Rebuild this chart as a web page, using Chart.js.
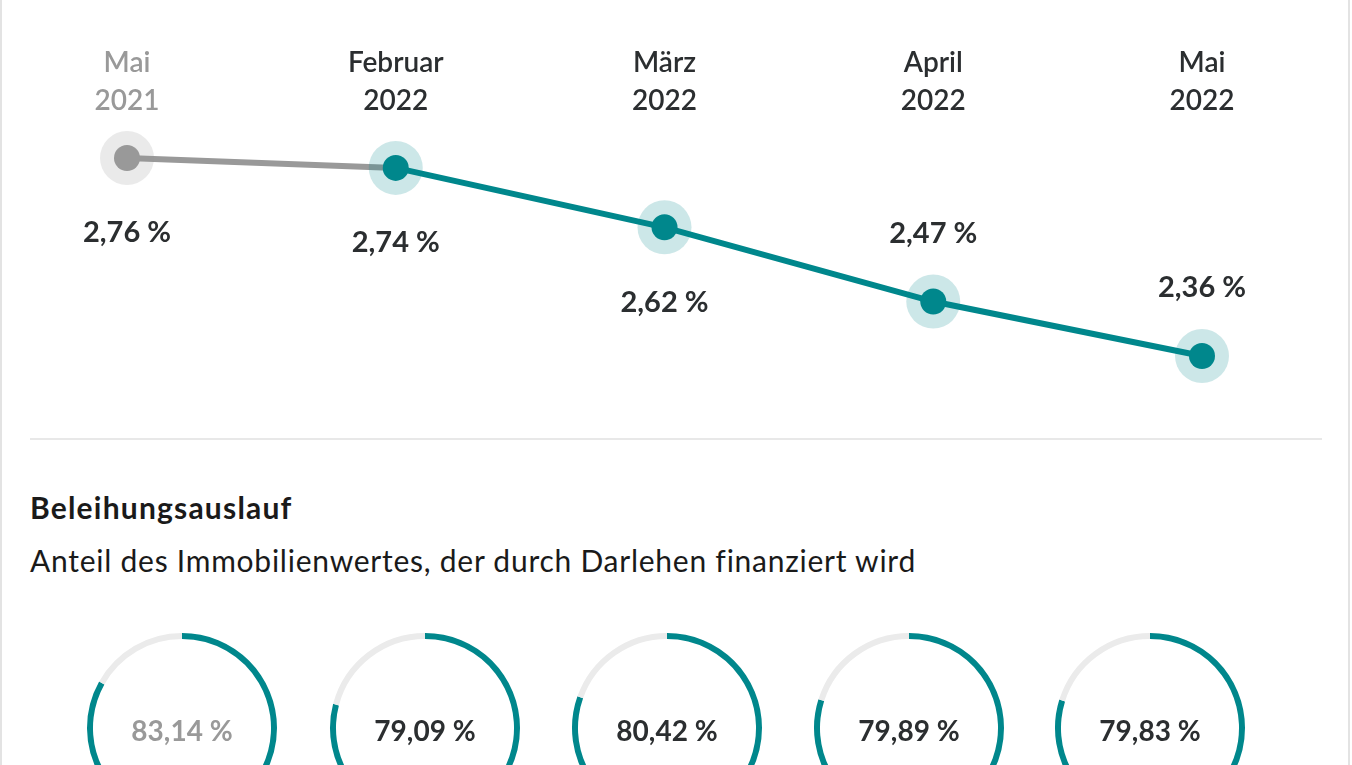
<!DOCTYPE html>
<html><head><meta charset="utf-8">
<script src="https://cdn.jsdelivr.net/npm/chart.js@4.4.0/dist/chart.umd.min.js"></script>
<style>
html,body{margin:0;padding:0;background:#fff;overflow:hidden;width:1352px;height:765px;font-family:Lato,"Open Sans",sans-serif;}
#frame{position:absolute;left:0;top:0;width:1346px;height:900px;border-left:2px solid #e3e3e3;border-right:2px solid #e3e3e3;}
#lineCv{position:absolute;left:0;top:0;}
#divider{position:absolute;left:30px;top:438px;width:1292px;height:2px;background:#e8e8e8;}
#title{position:absolute;left:30px;top:489px;font-size:30px;font-weight:700;color:#1a1a1a;line-height:36px;white-space:nowrap;letter-spacing:1.2px;}
#subtitle{position:absolute;left:30px;top:542px;font-size:30px;font-weight:400;color:#1a1a1a;line-height:36px;white-space:nowrap;letter-spacing:0.75px;}
.dn{position:absolute;top:618px;}
</style></head>
<body>
<div id="frame"></div>
<canvas id="lineCv" width="1352" height="430"></canvas>
<div id="divider"></div>
<div id="title">Beleihungsauslauf</div>
<div id="subtitle">Anteil des Immobilienwertes, der durch Darlehen finanziert wird</div>
<canvas class="dn" id="d0" width="220" height="220"></canvas>
<canvas class="dn" id="d1" width="220" height="220"></canvas>
<canvas class="dn" id="d2" width="220" height="220"></canvas>
<canvas class="dn" id="d3" width="220" height="220"></canvas>
<canvas class="dn" id="d4" width="220" height="220"></canvas>
<script>
// ---- data ----
const monthLabels = [["Mai","2021"],["Februar","2022"],["März","2022"],["April","2022"],["Mai","2022"]];
const zinsValues = [2.76, 2.74, 2.62, 2.47, 2.36];
const labelSide = ["below","below","below","above","above"];
const ltvValues = [83.14, 79.09, 80.42, 79.89, 79.83];

// ---- styles ----
const TEAL = "#00878c";
const TEAL_HALO = "rgba(0,135,140,0.2)";
const GREY = "#999999";
const GREY_HALO = "rgba(150,150,150,0.2)";
const DARK = "#2b2e30";
const FONT = "Lato, 'Open Sans', sans-serif";

const fmt = v => v.toFixed(2).replace(".", ",") + " %";
const colorAt = (i, a, b) => i === 0 ? a : b;

const valueLabels = {
  id: "valueLabels",
  afterDatasetsDraw(chart) {
    const meta = chart.getDatasetMeta(2);
    const ctx = chart.ctx;
    ctx.save();
    ctx.font = "700 29px " + FONT;
    ctx.fillStyle = DARK;
    ctx.textAlign = "center";
    ctx.textBaseline = "middle";
    meta.data.forEach((pt, i) => {
      const dy = labelSide[i] === "below" ? 75 : -68;
      ctx.fillText(fmt(zinsValues[i]), pt.x, pt.y + dy);
    });
    ctx.restore();
  }
};

new Chart(document.getElementById("lineCv"), {
  type: "line",
  data: {
    labels: monthLabels,
    datasets: [
      {
        data: zinsValues, borderColor: TEAL, borderWidth: 6, pointRadius: 0,
        fill: false, tension: 0, order: 3, clip: false,
        segment: { borderColor: c => c.p0DataIndex === 0 ? GREY : TEAL }
      },
      {
        data: zinsValues, showLine: false, pointRadius: 27, pointBorderWidth: 0,
        pointBackgroundColor: zinsValues.map((v, i) => colorAt(i, GREY_HALO, TEAL_HALO)),
        order: 2, clip: false
      },
      {
        data: zinsValues, showLine: false, pointRadius: 13, pointBorderWidth: 0,
        pointBackgroundColor: zinsValues.map((v, i) => colorAt(i, GREY, TEAL)),
        order: 1, clip: false
      }
    ]
  },
  options: {
    responsive: false, animation: false, events: [],
    layout: { padding: { left: 127, right: 150, top: 0, bottom: 10 } },
    plugins: { legend: { display: false }, tooltip: { enabled: false } },
    scales: {
      x: {
        position: "top", offset: false,
        grid: { display: false, drawTicks: false }, border: { display: false },
        afterFit: s => { s.height = 130; },
        ticks: {
          autoSkip: false, maxRotation: 0, padding: 10,
          font: { family: FONT, size: 28, weight: "600", lineHeight: 1.36 },
          color: c => c.index === 0 ? GREY : DARK
        }
      },
      y: { display: false, min: 2.265, max: 2.8166 }
    }
  },
  plugins: [valueLabels]
});

const centers = [182, 425, 667, 909, 1150];
ltvValues.forEach((v, i) => {
  const cv = document.getElementById("d" + i);
  cv.style.left = (centers[i] - 110) + "px";
  const centerText = {
    id: "centerText" + i,
    afterDraw(chart) {
      const ctx = chart.ctx;
      const m = chart.getDatasetMeta(0).data[0];
      ctx.save();
      ctx.font = "700 28px " + FONT;
      ctx.fillStyle = i === 0 ? GREY : DARK;
      ctx.textAlign = "center";
      ctx.textBaseline = "middle";
      ctx.fillText(fmt(v), m.x, m.y + 4);
      ctx.restore();
    }
  };
  new Chart(cv, {
    type: "doughnut",
    data: {
      labels: ["Anteil", "Rest"],
      datasets: [{ data: [v, 100 - v], backgroundColor: [TEAL, "#ebebeb"], borderWidth: 0 }]
    },
    options: {
      responsive: false, animation: false, events: [],
      radius: 95, cutout: "93.7%",
      plugins: { legend: { display: false }, tooltip: { enabled: false } }
    },
    plugins: [centerText]
  });
});
</script>
</body></html>
